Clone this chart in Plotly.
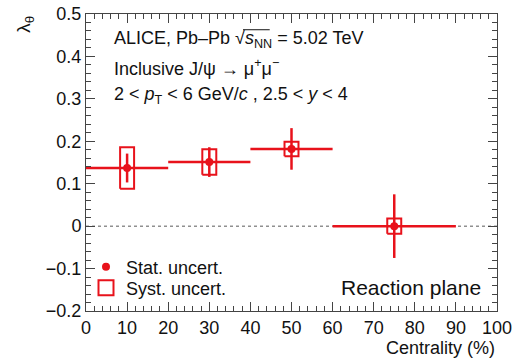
import plotly.graph_objects as go

# ---- data ----
centrality = [10, 30, 50, 75]
bin_halfwidth = [10, 10, 10, 15]
lambda_theta = [0.137, 0.151, 0.182, 0.000]
stat_err = [0.034, 0.035, 0.049, 0.075]
syst_err = [0.049, 0.030, 0.017, 0.018]
box_halfwidth = 1.7

x_ticks = [0, 10, 20, 30, 40, 50, 60, 70, 80, 90, 100]
y_ticks = [-0.2, -0.1, 0, 0.1, 0.2, 0.3, 0.4, 0.5]
y_ticktext = ["\u22120.2", "\u22120.1", "0", "0.1", "0.2", "0.3", "0.4", "0.5"]

RED = "#e8121b"
FONT = "Liberation Sans, Arial, Helvetica, sans-serif"

fig = go.Figure()

# zero reference line
fig.add_trace(go.Scatter(x=[0, 100], y=[0, 0], mode="lines",
                         line=dict(color="#909090", width=1.5, dash="dot"),
                         showlegend=False, hoverinfo="skip"))

# systematic boxes
bx, by = [], []
for c, v, s in zip(centrality, lambda_theta, syst_err):
    bx += [c - box_halfwidth, c + box_halfwidth, c + box_halfwidth, c - box_halfwidth, c - box_halfwidth, None]
    by += [v - s, v - s, v + s, v + s, v - s, None]
fig.add_trace(go.Scatter(x=bx, y=by, mode="lines", line=dict(color=RED, width=2),
                         showlegend=False, hoverinfo="skip"))

# points with stat errors
fig.add_trace(go.Scatter(
    x=centrality, y=lambda_theta, mode="markers",
    marker=dict(color=RED, size=8, symbol="circle"),
    error_x=dict(type="data", array=bin_halfwidth, color=RED, thickness=2.5, width=0),
    error_y=dict(type="data", array=stat_err, color=RED, thickness=2.5, width=0),
    name="Stat. uncert.", showlegend=True, legend="legend"))

# legend entry for syst
fig.add_trace(go.Scatter(x=[None], y=[None], mode="markers",
                         marker=dict(color=RED, size=15, symbol="square-open",
                                     line=dict(color=RED, width=2)),
                         name="Syst. uncert.", showlegend=True, legend="legend2"))

axis_common = dict(showline=True, linecolor="#444", linewidth=1, mirror="ticks",
                   ticks="inside", ticklen=9, tickcolor="#444", showgrid=False, zeroline=False,
                   automargin=False,
                   tickfont=dict(family=FONT, size=18, color="#111"))

fig.update_xaxes(range=[0, 100], tickvals=x_ticks, ticktext=[str(t) for t in x_ticks],
                 minor=dict(dtick=2, ticks="inside", ticklen=5, tickcolor="#444", showgrid=False),
                 **axis_common)
fig.update_yaxes(range=[-0.2, 0.5], tickvals=y_ticks, ticktext=y_ticktext,
                 minor=dict(dtick=0.02, ticks="inside", ticklen=5, tickcolor="#444", showgrid=False),
                 **axis_common)

txt = dict(family=FONT, size=18, color="#111")
ann = [
    dict(x=0.063, y=0.915, xref="paper", yref="paper", xanchor="left", yanchor="middle",
         text="ALICE, Pb\u2013Pb \u221A<i>s</i><sub>NN</sub> = 5.02 TeV", showarrow=False, font=txt),
    dict(x=0.063, y=0.82, xref="paper", yref="paper", xanchor="left", yanchor="middle",
         text="Inclusive J/\u03C8 \u2192 \u03BC<sup>+</sup>\u03BC<sup>\u2212</sup>", showarrow=False, font=txt),
    dict(x=0.063, y=0.727, xref="paper", yref="paper", xanchor="left", yanchor="middle",
         text="2 &lt; <i>p</i><sub>T</sub> &lt; 6 GeV/<i>c</i> , 2.5 &lt; <i>y</i> &lt; 4", showarrow=False, font=txt),
    dict(x=0.965, y=0.08, xref="paper", yref="paper", xanchor="right", yanchor="middle",
         text="Reaction plane", showarrow=False, font=dict(family=FONT, size=21, color="#111")),
    dict(x=1.0, y=-0.125, xref="paper", yref="paper", xanchor="right", yanchor="middle",
         text="Centrality (%)", showarrow=False, font=dict(family=FONT, size=18, color="#111")),
    dict(x=-0.15, y=1.0, xref="paper", yref="paper", xanchor="center", yanchor="top",
         text="\u03BB<sub>\u03B8</sub>", textangle=-90, showarrow=False,
         font=dict(family=FONT, size=19, color="#111")),
]

# overline of the square root in the title text
shapes = [dict(type="line", xref="paper", yref="paper", x0=0.382, x1=0.447, y0=0.947, y1=0.947,
               line=dict(color="#111", width=1))]

leg_common = dict(xanchor="left", yanchor="middle", bgcolor="rgba(0,0,0,0)",
                  font=dict(family=FONT, size=18, color="#111"), itemwidth=30)

fig.update_layout(
    width=514, height=358,
    margin=dict(l=86, r=17, t=14, b=47),
    paper_bgcolor="white", plot_bgcolor="white",
    annotations=ann, shapes=shapes,
    legend=dict(x=0.0, y=0.148, **leg_common),
    legend2=dict(x=0.0, y=0.077, **leg_common),
)

fig.write_html("out.html", config={"displayModeBar": False},
               post_script="document.body.style.margin='0px';")
